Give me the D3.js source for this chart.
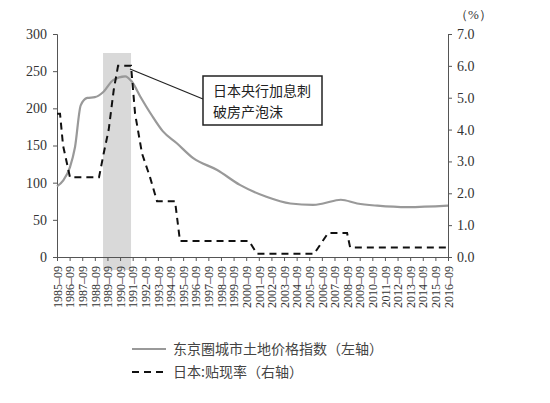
<!DOCTYPE html>
<html><head><meta charset="utf-8">
<script src="https://cdn.jsdelivr.net/npm/d3@7"></script>
<style>body{margin:0;background:#fff} svg text.num{font-family:"Liberation Serif","Times New Roman","DejaVu Serif",serif}</style>
</head><body><div id="chart"></div>
<script>
var years = d3.range(1985, 2017);
var tickLabels = years.map(function(y){ return y + "–09"; });
var priceDates = [0,0.5,1.03,1.43,1.88,2.4,3.0,3.67,4.45,5.4,5.93,6.6,7.5,8.4,9.5,10.8,12.7,14.5,16.6,18.5,20.3,21.1,22.5,23.8,25.4,27.8,31];
var priceValues = [95,103,121,148,204,214,215,222,238,243,236,216,191,169,153,133,117,97,81,72,70,72,77,72,69,67,69];
var rateDates = [0,0.24,0.48,1.03,3.33,3.7,4.1,4.5,4.84,5.87,6.19,6.74,7.38,7.93,9.36,9.75,15.23,15.86,20.38,21.49,23.0,23.24,31];
var rateValues = [4.5,4.5,3.5,2.5,2.5,3.25,4.0,5.25,6.0,6.0,4.5,3.25,2.5,1.75,1.75,0.5,0.5,0.1,0.1,0.75,0.75,0.3,0.3];
var bandRange = [3.65, 5.87];
var leftTicks = [0,50,100,150,200,250,300];
var rightTicks = [0,1,2,3,4,5,6,7];

var W = 550, H = 403;
var cjk = "'Noto Sans CJK SC',sans-serif";
var svg = d3.select("#chart").append("svg").attr("width", W).attr("height", H);

var x = d3.scaleLinear().domain([0, 31]).range([57, 448]);
var yL = d3.scaleLinear().domain([0, 300]).range([257, 34]);
var yR = d3.scaleLinear().domain([0, 7]).range([257, 34]);

svg.append("rect").attr("x", x(bandRange[0])).attr("y", 53)
  .attr("width", x(bandRange[1]) - x(bandRange[0])).attr("height", 270 - 53)
  .style("fill", "#d9d9d9");

var gl = svg.append("g").attr("transform", "translate(57,0)")
  .call(d3.axisLeft(yL).tickValues(leftTicks).tickSize(4).tickPadding(6));
var gr = svg.append("g").attr("transform", "translate(448,0)")
  .call(d3.axisRight(yR).tickValues(rightTicks).tickSize(4).tickPadding(5).tickFormat(d3.format(".1f")));
var gb = svg.append("g").attr("transform", "translate(0,257)")
  .call(d3.axisBottom(x).tickValues(d3.range(0, 32)).tickSize(4).tickFormat(function(d){ return tickLabels[d]; }));
[gl, gr, gb].forEach(function(g){
  g.attr("font-family", null);
  g.selectAll("path,line").style("stroke", "#555");
  g.selectAll("text").attr("class", "num").style("font-size", "14px").style("fill", "#333");
});
gb.selectAll("text").style("font-size", "12px").attr("transform", "rotate(-90)")
  .attr("text-anchor", "end").attr("x", -9).attr("y", 0).attr("dy", "0.35em");

svg.append("path").datum(priceDates)
  .attr("d", d3.line().x(function(d){ return x(d); }).y(function(d, i){ return yL(priceValues[i]); }).curve(d3.curveMonotoneX))
  .style("fill", "none").style("stroke", "#999").style("stroke-width", 2.2);

svg.append("path").datum(rateDates)
  .attr("d", d3.line().x(function(d){ return x(d); }).y(function(d, i){ return yR(rateValues[i]); }))
  .style("fill", "none").style("stroke", "#111").style("stroke-width", 2).style("stroke-dasharray", "7,5");

svg.append("text").attr("class", "num").attr("x", 455).attr("y", 19).text("（%）")
  .style("font-size", "13px").style("fill", "#333");

svg.append("line").attr("x1", 130).attr("y1", 69).attr("x2", 203).attr("y2", 99).style("stroke", "#222").style("stroke-width", 1.2);
svg.append("rect").attr("x", 203).attr("y", 76).attr("width", 119).attr("height", 49)
  .style("fill", "#fff").style("stroke", "#222").style("stroke-width", 1.5);
["日本央行加息刺", "破房产泡沫"].forEach(function(t, i){
  svg.append("text").attr("x", 213).attr("y", 96 + i * 21).text(t)
    .style("font-family", cjk).style("font-size", "14px").style("fill", "#222");
});

var legend = [
  {label: "东京圈城市土地价格指数（左轴）", stroke: "#999", dash: null, w: 2.2},
  {label: "日本:贴现率（右轴）", stroke: "#111", dash: "7,5", w: 2}
];
legend.forEach(function(l, i){
  var yy = 349 + i * 23;
  svg.append("line").attr("x1", 132).attr("x2", 166).attr("y1", yy).attr("y2", yy)
    .style("stroke", l.stroke).style("stroke-width", l.w).style("stroke-dasharray", l.dash);
  svg.append("text").attr("x", 173).attr("y", yy + 5).text(l.label)
    .style("font-family", cjk).style("font-size", "14px").style("fill", "#444");
});
</script></body></html>
